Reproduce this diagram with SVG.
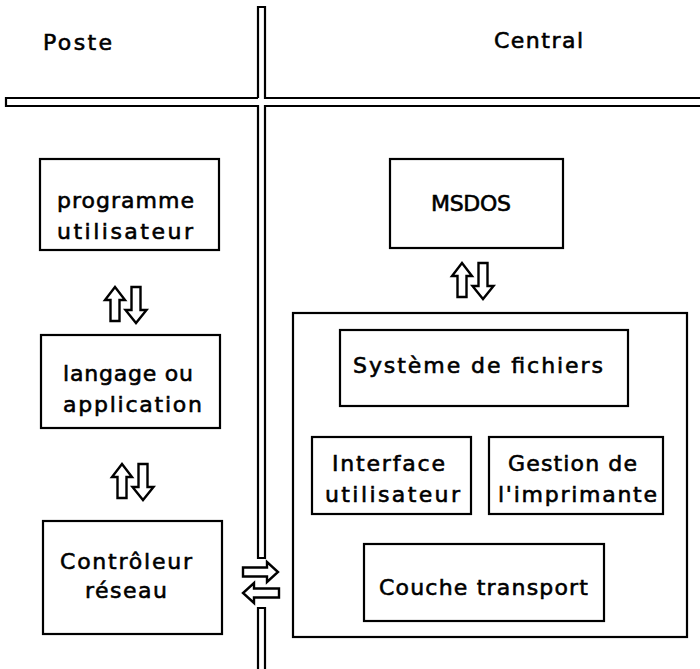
<svg xmlns="http://www.w3.org/2000/svg" xmlns:xlink="http://www.w3.org/1999/xlink" width="700" height="669" viewBox="0 0 700 669">
  <style>
    .box { fill: #fff; stroke: #000; stroke-width: 2.2; }
    .wall { fill: #fff; stroke: #000; stroke-width: 2.2; stroke-linejoin: miter; }
    .arw { fill: #fff; stroke: #000; stroke-width: 2.4; stroke-linejoin: miter; }
    text { font-family: "DejaVu Sans", "Liberation Sans", sans-serif; font-size: 22px; fill: #000; stroke: #000; stroke-width: 0.6; }
  </style>
  <defs>
    <!-- hollow block arrows: up and down pair -->
    <path id="upArrow" d="M0,0 L10,13 L4.5,13 L4.5,34 L-4.5,34 L-4.5,13 L-10,13 Z"/>
    <path id="downArrow" d="M-4.5,0 L4.5,0 L4.5,23 L10.5,23 L0,36 L-10.5,23 L-4.5,23 Z"/>
    <g id="updown">
      <use xlink:href="#upArrow"/>
      <use xlink:href="#downArrow" x="21"/>
    </g>
  </defs>

  <rect width="700" height="669" fill="#fff"/>

  <!-- separating double lines -->
  <g id="separators">
    <path class="wall" d="M258,98 V7 H265 V98 H702 M702,106 H265 V558 H258 V106 H6 V98 H258"/>
    <path class="wall" d="M258,672 V608 H265 V672"/>
  </g>

  <!-- side labels -->
  <text x="43" y="50" textLength="69" lengthAdjust="spacing">Poste</text>
  <text x="494" y="48" textLength="89" lengthAdjust="spacing">Central</text>

  <!-- Poste stack -->
  <g id="programme">
    <rect class="box" x="40" y="159" width="179" height="91"/>
    <text x="57" y="208" textLength="137" lengthAdjust="spacing">programme</text>
    <text x="57" y="239" textLength="136" lengthAdjust="spacing">utilisateur</text>
  </g>
  <g id="langage">
    <rect class="box" x="41" y="335" width="179" height="93"/>
    <text x="63" y="381" textLength="130" lengthAdjust="spacing">langage ou</text>
    <text x="63" y="412" textLength="139" lengthAdjust="spacing">application</text>
  </g>
  <g id="controleur">
    <rect class="box" x="43" y="521" width="179" height="113"/>
    <text x="60" y="569" textLength="132" lengthAdjust="spacing">Contrôleur</text>
    <text x="85" y="598" textLength="82" lengthAdjust="spacing">réseau</text>
  </g>

  <!-- Central stack -->
  <g id="msdos">
    <rect class="box" x="390" y="159" width="173" height="89"/>
    <text x="431" y="211" textLength="80" lengthAdjust="spacing">MSDOS</text>
  </g>
  <g id="serveur">
    <rect class="box" x="293" y="313" width="394" height="324"/>
  </g>
  <g id="fichiers">
    <rect class="box" x="340" y="330" width="288" height="76"/>
    <text x="353" y="373" textLength="250" lengthAdjust="spacing">Système de fichiers</text>
  </g>
  <g id="interface">
    <rect class="box" x="312" y="437" width="159" height="77"/>
    <text x="332" y="471" textLength="113" lengthAdjust="spacing">Interface</text>
    <text x="325" y="502" textLength="135" lengthAdjust="spacing">utilisateur</text>
  </g>
  <g id="imprimante">
    <rect class="box" x="489" y="437" width="174" height="77"/>
    <text x="508" y="471" textLength="129" lengthAdjust="spacing">Gestion de</text>
    <text x="498" y="502" textLength="159" lengthAdjust="spacing">l'imprimante</text>
  </g>
  <g id="transport">
    <rect class="box" x="364" y="544" width="240" height="77"/>
    <text x="379" y="595" textLength="209" lengthAdjust="spacing">Couche transport</text>
  </g>

  <!-- exchange arrows -->
  <g id="connectors">
    <use class="arw" xlink:href="#updown" transform="translate(115,287)"/>
    <use class="arw" xlink:href="#updown" transform="translate(122,464)"/>
    <use class="arw" xlink:href="#updown" transform="translate(462,263)"/>
    <path class="arw" d="M243,567.5 H267 V562 L278,572 L267,582 V576.5 H243 Z"/>
    <path class="arw" d="M279,588.5 H254 V583 L243,593 L254,603 V597.5 H279 Z"/>
  </g>
</svg>
